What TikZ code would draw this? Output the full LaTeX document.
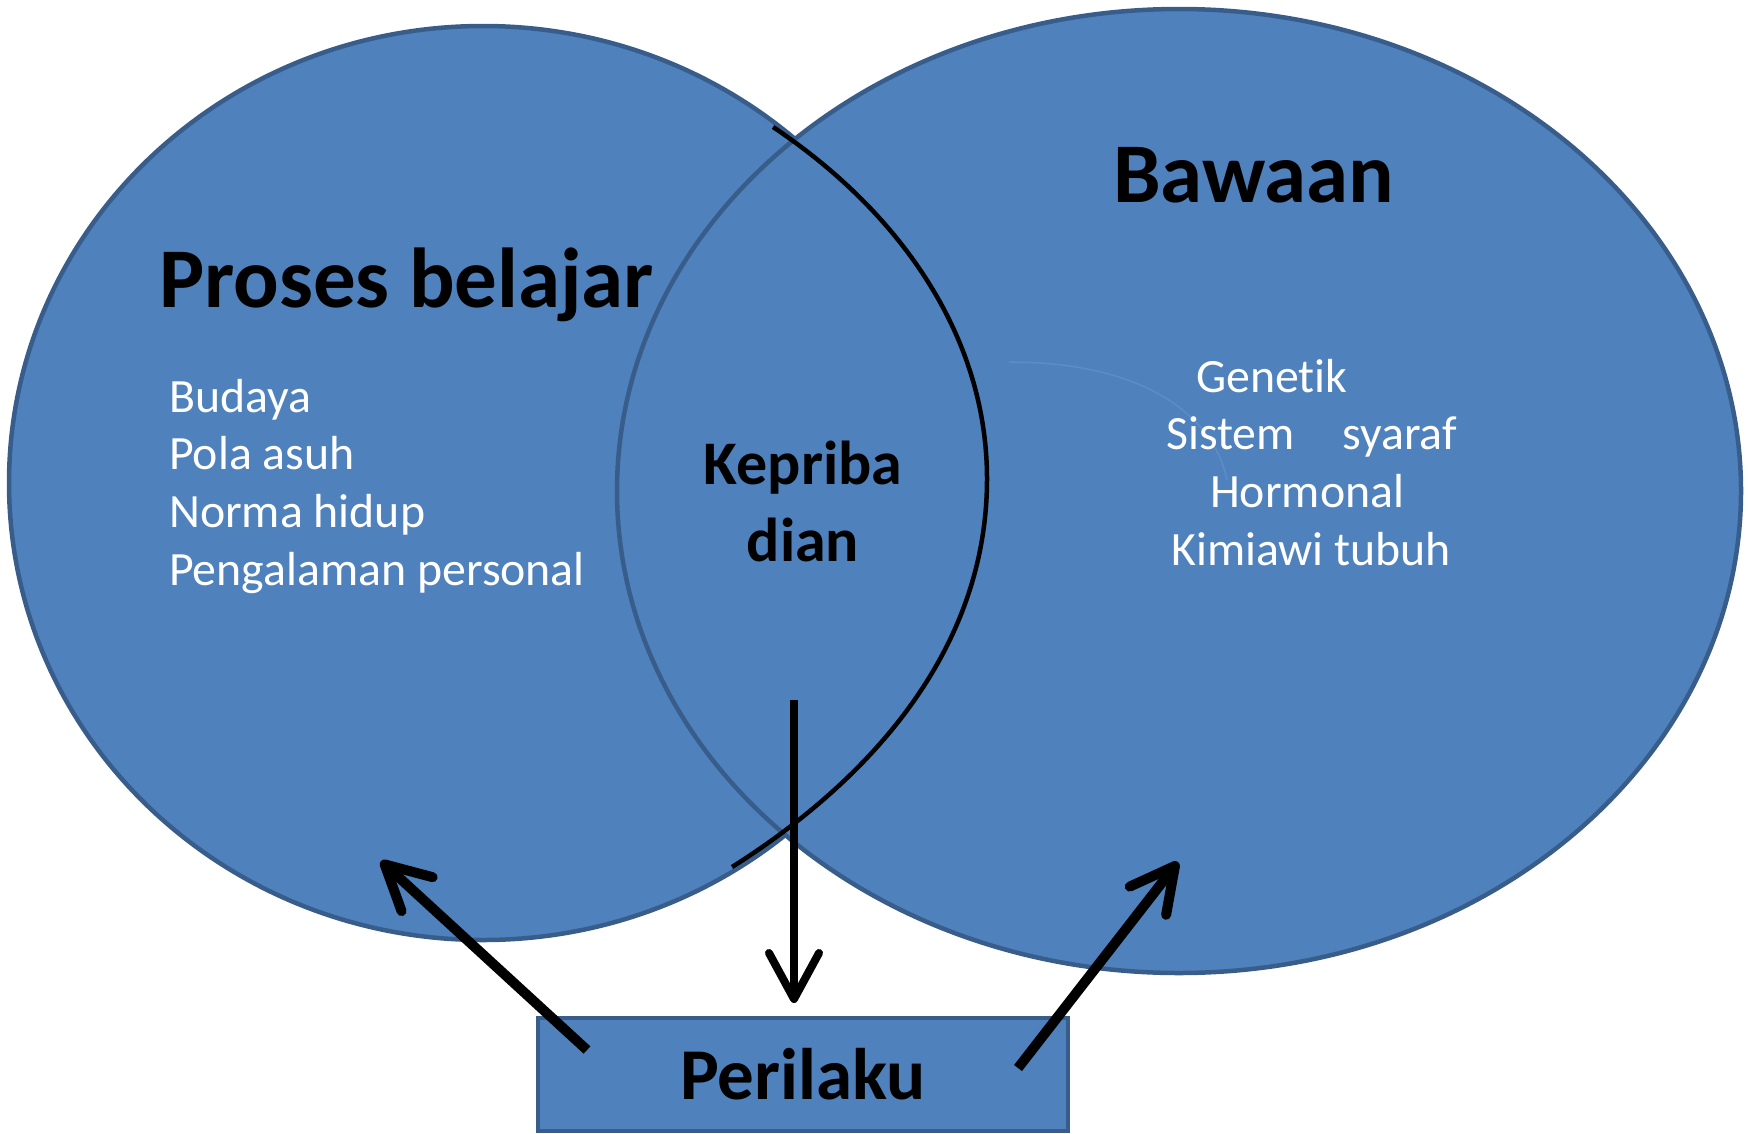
\documentclass[tikz,border=0pt]{standalone}
\usepackage{fontspec}
\setmainfont{Carlito}[Ligatures=NoCommon]
\usetikzlibrary{arrows.meta,shapes.geometric}
\definecolor{fillblue}{HTML}{4F81BD}
\definecolor{edgeblue}{HTML}{385D8A}
\definecolor{ghostblue}{HTML}{5C8DC7}

\begin{document}
\begin{tikzpicture}[x=1pt, y=-1pt,
  blob/.style = {draw=edgeblue, fill=fillblue, line width=4.5pt, ellipse, inner sep=0pt},
  box/.style = {draw=edgeblue, fill=fillblue, line width=3.5pt, inner sep=0pt},
  head/.style = {font=\fontsize{85}{100}\selectfont\bfseries, inner sep=0pt, anchor=base west},
  item/.style = {text=white, font=\fontsize{47.8}{57}\selectfont, inner sep=0pt, anchor=base west},
  arr/.style = {line width=10pt, -{Straight Barb[length=44pt, width=46pt, round]}}]
\useasboundingbox (0,0) rectangle (1748,1133);

% dua elips
\node[blob, minimum width=948pt, minimum height=914pt] (belajar) at (483,483) {};
\node[blob, minimum width=1124pt, minimum height=964pt] (bawaan) at (1179,491) {};

% garis hitam di irisan
\draw[line width=4.5pt] (773,127) .. controls (893,207) and (987,330) .. (987,479)
  .. controls (987,650) and (870,780) .. (732,867);
\draw[ghostblue, line width=1.5pt] (1009,362) .. controls (1150,362) and (1215,420) .. (1227,480);

% judul
\node[head] (tbelajar) at (159,307) {Proses belajar};
\node[head] (tbawaan) at (1113,202) {Bawaan};
\node[font=\fontsize{62}{77}\selectfont\bfseries, align=center, inner sep=0pt] (kepribadian) at (803,501) {Kepriba\\dian};

% isi kiri
\node[item] (budaya) at (169,412) {Budaya};
\node[item] (pola) at (169,469) {Pola asuh};
\node[item] (norma) at (169,527) {Norma hidup};
\node[item] (pengalaman) at (169,585) {Pengalaman personal};

% isi kanan
\node[item] (genetik) at (1196,392) {Genetik};
\node[item] (sistem) at (1166,449) {Sistem\hspace{1em}syaraf};
\node[item] (hormonal) at (1210,507) {Hormonal};
\node[item] (kimiawi) at (1171,565) {Kimiawi tubuh};

% kotak perilaku
\node[box, minimum width=530pt, minimum height=113pt, font=\fontsize{73}{88}\selectfont\bfseries] (perilaku) at (803,1074.5) {Perilaku};

% panah
\coordinate (pl) at (587,1050);
\coordinate (tl) at (381,861);
\coordinate (pr) at (1018,1068);
\coordinate (tr) at (1178,862);
\coordinate (kd) at (794,700);
\coordinate (kdend) at (794,1003);
\draw[arr] (pl) -- (tl);
\draw[arr] (pr) -- (tr);
\draw[line width=8pt, -{Straight Barb[length=46pt, width=50pt, round]}] (kd) -- (kdend);
\end{tikzpicture}
\end{document}
